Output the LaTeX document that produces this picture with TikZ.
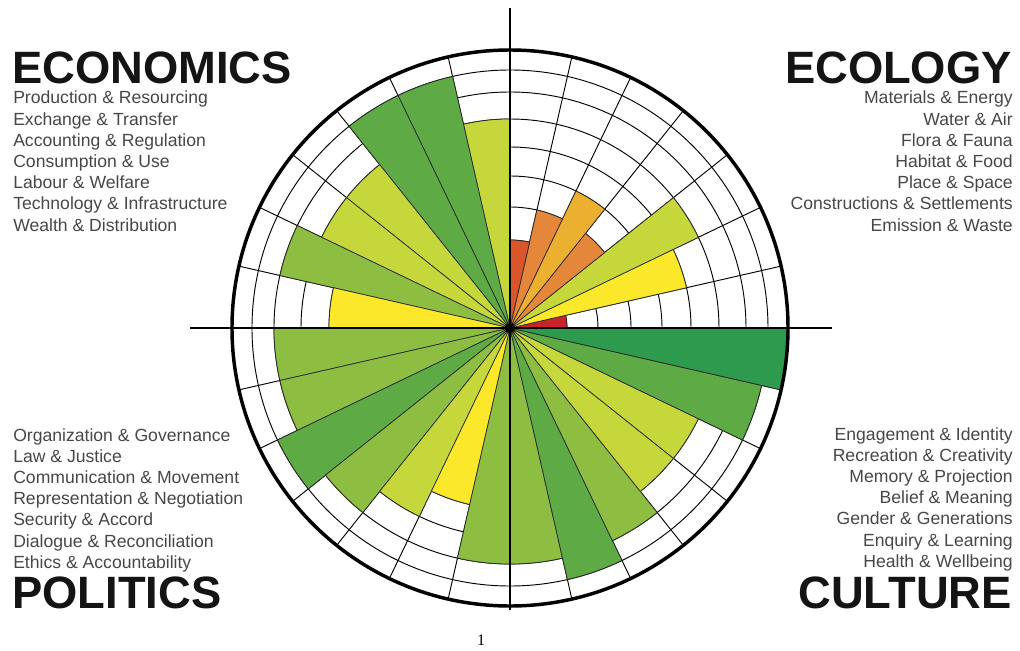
\documentclass[tikz,border=0pt]{standalone}
\usepackage{fontspec}
\setmainfont{Liberation Sans}
\newfontfamily\numfont{Liberation Serif}
\usetikzlibrary{positioning}

\definecolor{cred}{HTML}{C9232A}
\definecolor{credor}{HTML}{D9552A}
\definecolor{corange}{HTML}{E4873A}
\definecolor{cgold}{HTML}{EBB02F}
\definecolor{cyel}{HTML}{FCE82A}
\definecolor{cyelgr}{HTML}{C5D73A}
\definecolor{cltgr}{HTML}{8DBE42}
\definecolor{cmidgr}{HTML}{5EAA45}
\definecolor{cdkgr}{HTML}{2E9A4E}

\begin{document}
\begin{tikzpicture}[x=0.75pt,y=0.75pt,
    head/.style={font=\fontsize{34}{40}\selectfont\bfseries,text=black!92,inner sep=0pt},
    item/.style={font=\fontsize{13.2}{15}\selectfont,text=black!72,inner sep=0pt},
    ring/.style={black,line width=0.7pt},
    wedge/.style={draw=black!85,line width=0.5pt}]
  \useasboundingbox (-510,-322) rectangle (510,328);
  \def\radii{{0,57,88,121,152,181,209,236,258,278}}

  % grid of levels and domains
  \foreach \r in {57,88,121,152,181,209,236,258}
    \draw[ring] (0,0) circle[radius=\r];
  \foreach \k in {0,...,27}
    \draw[ring] (0,0) -- ({\k*360/28}:278);

  % one wedge per subdomain, level/colour, anticlockwise from east
  \foreach \lv/\col [count=\i from 0] in {1/cred,5/cyel,6/cyelgr,3/corange,4/cgold,3/corange,2/credor,
      6/cyelgr,8/cmidgr,8/cmidgr,6/cyelgr,6/cyelgr,7/cltgr,5/cyel,
      7/cltgr,7/cltgr,8/cmidgr,7/cltgr,6/cyelgr,5/cyel,7/cltgr,
      7/cltgr,8/cmidgr,7/cltgr,6/cyelgr,6/cyelgr,8/cmidgr,9/cdkgr} {
    \pgfmathsetmacro\r{\radii[\lv]}
    \pgfmathsetmacro\a{\i*360/28}
    \pgfmathsetmacro\b{(\i+1)*360/28}
    \filldraw[wedge,fill=\col] (0,0) -- (\a:\r) arc[start angle=\a,end angle=\b,radius=\r] -- cycle;
  }

  \draw[line width=2.6pt] (0,0) circle[radius=278];
  \draw[line width=1.9pt] (0,320) -- (0,-282);
  \draw[line width=1.9pt] (-320,0) -- (322,0);
  \fill[black] (0,0) circle[radius=5];

  % domain names
  \node[head,anchor=base west] (economics) at (-498,244) {ECONOMICS};
  \node[head,anchor=base east] (ecology)   at (502,244)  {ECOLOGY};
  \node[head,anchor=base west] (politics)  at (-498,-280) {POLITICS};
  \node[head,anchor=base east] (culture)   at (502,-280) {CULTURE};

  % subdomains
  \foreach \t [count=\i] in {Production \& Resourcing,Exchange \& Transfer,Accounting \& Regulation,
      Consumption \& Use,Labour \& Welfare,Technology \& Infrastructure,Wealth \& Distribution}
    \node[item,anchor=base west] (econ\i) at (-497,{224-(\i-1)*21.2}) {\t};
  \foreach \t [count=\i] in {Materials \& Energy,Water \& Air,Flora \& Fauna,Habitat \& Food,
      Place \& Space,Constructions \& Settlements,Emission \& Waste}
    \node[item,anchor=base east] (ecol\i) at (503,{224-(\i-1)*21.2}) {\t};
  \foreach \t [count=\i] in {Organization \& Governance,Law \& Justice,Communication \& Movement,
      Representation \& Negotiation,Security \& Accord,Dialogue \& Reconciliation,Ethics \& Accountability}
    \node[item,anchor=base west] (poli\i) at (-497,{-113-(\i-1)*21.2}) {\t};
  \foreach \t [count=\i] in {Engagement \& Identity,Recreation \& Creativity,Memory \& Projection,
      Belief \& Meaning,Gender \& Generations,Enquiry \& Learning,Health \& Wellbeing}
    \node[item,anchor=base east] (cult\i) at (503,{-112-(\i-1)*21.2}) {\t};

  \node[font=\numfont\fontsize{12}{14}\selectfont] (pagenum) at (-29,-312) {1};
\end{tikzpicture}
\end{document}
